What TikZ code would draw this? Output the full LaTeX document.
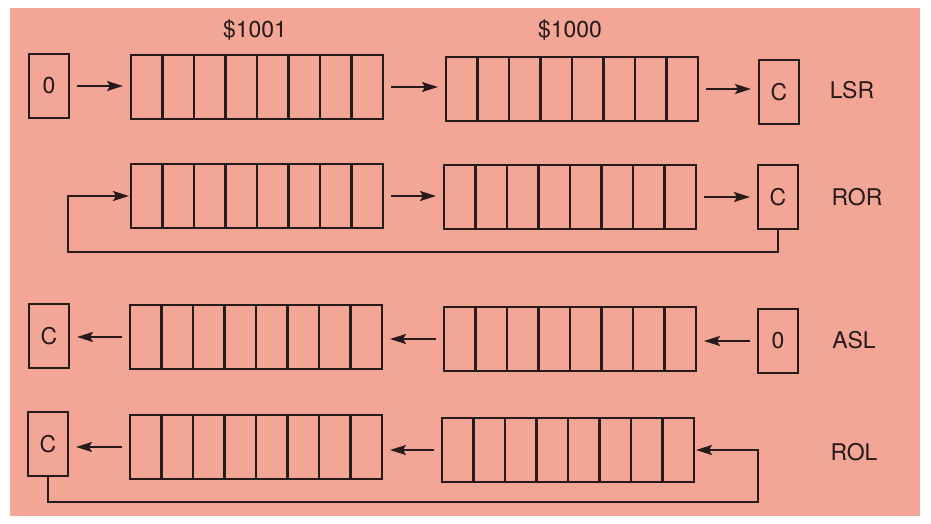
\documentclass[tikz,border=0pt]{standalone}
\usepackage{fontspec}
\setmainfont{TeX Gyre Heros}
\usetikzlibrary{calc,arrows.meta}
\definecolor{sheet}{RGB}{243,166,150}
\definecolor{ink}{RGB}{38,26,26}
\tikzset{
  reg/.style={draw=ink,line width=2.8pt,minimum width=252pt,minimum height=64pt,outer sep=0pt},
  bit/.style={draw=ink,line width=2.8pt,minimum width=40pt,minimum height=64pt,inner sep=0pt,outer sep=0pt,text=ink},
  flow/.style={draw=ink,line width=1.8pt},
  move/.style={flow,->,shorten <=8pt,shorten >=8pt},
  lab/.style={text=ink}
}
\begin{document}
\begin{tikzpicture}[x=1pt,y=-1pt,>={Stealth[length=16pt,width=10pt,inset=3pt]},
    font=\fontsize{23}{26}\selectfont]
      \useasboundingbox (0,0) rectangle (931,524);
      \fill[white] (0,0) rectangle (931,524);
      \fill[sheet] (10,8) rectangle (920,516);
      % addresses
      \node[lab] (adrHi) at (255,30) {\$1001};
      \node[lab] (adrLo) at (570,30) {\$1000};
      % LSR
      \node[bit] (lsrZero) at (49,86) {0};
      \node[reg] (lsrHi) at (257,87) {};
      \node[reg] (lsrLo) at (572,89) {};
      \node[bit] (lsrC) at (779,92) {C};
      \node[lab] (lsrLab) at (852,90) {LSR};
      \draw[move] (lsrZero.east) -- (lsrZero.east -| lsrHi.west);
      \draw[move] (lsrHi.east) -- (lsrHi.east -| lsrLo.west);
      \draw[move] (lsrLo.east) -- (lsrLo.east -| lsrC.west);
      % ROR
      \node[reg] (rorHi) at (257,196) {};
      \node[reg] (rorLo) at (570,197) {};
      \node[bit] (rorC) at (778,197) {C};
      \node[lab] (rorLab) at (857,197) {ROR};
      \coordinate (rorTurn) at (68,252);
      \draw[move] (rorHi.east) -- (rorHi.east -| rorLo.west);
      \draw[move] (rorLo.east) -- (rorLo.east -| rorC.west);
      \draw[flow,->,shorten >=2pt] (rorC.south) |- (rorTurn) |- (rorHi.west);
      % ASL
      \node[bit] (aslC) at (49,336) {C};
      \node[reg] (aslHi) at (256,337) {};
      \node[reg] (aslLo) at (570,339) {};
      \node[bit] (aslZero) at (778,341) {0};
      \node[lab] (aslLab) at (854,340) {ASL};
      \draw[move] (aslZero.west) -- (aslZero.west -| aslLo.east);
      \draw[move] (aslLo.west) -- (aslLo.west -| aslHi.east);
      \draw[move] (aslHi.west) -- (aslHi.west -| aslC.east);
      % ROL
      \node[bit] (rolC) at (48,444) {C};
      \node[reg] (rolHi) at (256,447) {};
      \node[reg] (rolLo) at (568,450) {};
      \node[lab] (rolLab) at (854,452) {ROL};
      \coordinate (rolTurn) at (758,502);
      \draw[move] (rolLo.west) -- (rolLo.west -| rolHi.east);
      \draw[move] (rolHi.west) -- (rolHi.west -| rolC.east);
      \draw[flow,->,shorten >=2pt] (rolC.south) |- (rolTurn) |- (rolLo.east);
      % cells
      \foreach \r in {lsrHi,lsrLo,rorHi,rorLo,aslHi,aslLo,rolHi,rolLo}
        \foreach \i in {1,...,7}
          \draw[ink,line width=2.8pt] ($(\r.north west)!\i/8!(\r.north east)$) -- ($(\r.south west)!\i/8!(\r.south east)$);
    \end{tikzpicture}
\end{document}
